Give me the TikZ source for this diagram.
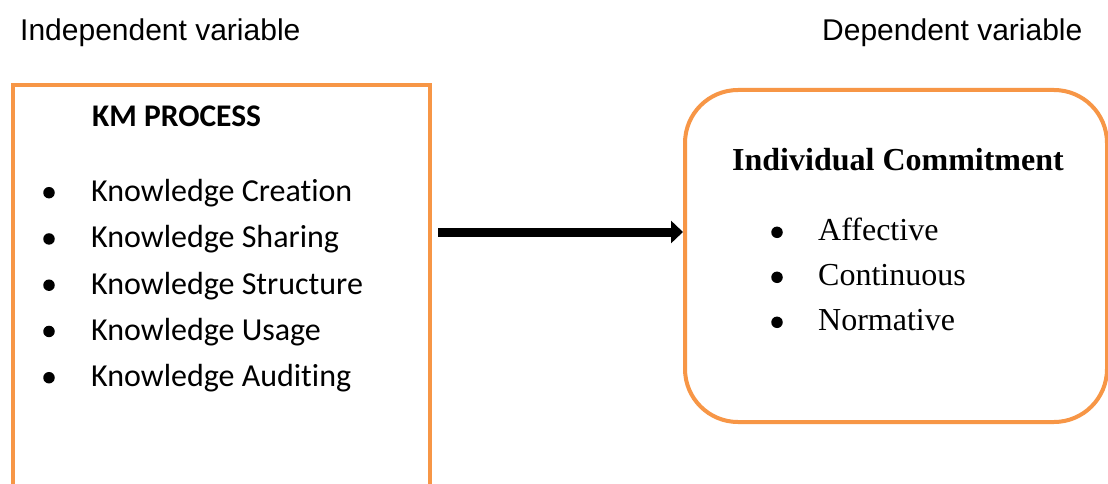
\documentclass[tikz,border=0pt]{standalone}
\usepackage{fontspec}
\setmainfont{Liberation Serif}
\newfontfamily\labelfont{Liberation Sans}
\newfontfamily\calfont[Ligatures=NoCommon]{Carlito}
\usetikzlibrary{arrows.meta}
\definecolor{boxorange}{HTML}{F79646}
\tikzset{
  framebox/.style={draw=boxorange, line width=4pt, inner sep=0pt},
  toplabel/.style={anchor=base west, inner sep=0pt, font=\labelfont\fontsize{30}{36}\selectfont},
  kmtext/.style={anchor=base west, inner sep=0pt, font=\calfont\fontsize{32}{38}\selectfont},
  ictext/.style={anchor=base west, inner sep=0pt, font=\fontsize{32}{38}\selectfont},
  dot/.style={circle, fill=black, inner sep=0pt, minimum size=11.5pt},
  bigarrow/.style={line width=9pt, -{Triangle[length=12pt,width=22pt]}}
}
\begin{document}
\begin{tikzpicture}[x=1pt,y=-1pt]
\clip (0,0) rectangle (1108,484);
\fill[white] (0,0) rectangle (1108,484);

% headings above the two boxes
\node[toplabel] (indep) at (20,41) {Independent variable};
\node[toplabel] (dep) at (822,41) {Dependent variable};

% independent variable box (runs past the lower edge)
\node[framebox, rectangle, minimum width=417pt, minimum height=420pt, anchor=north west] (km) at (11,83) {};
\node[kmtext, font=\calfont\bfseries\fontsize{31.5}{37}\selectfont] (kmtitle) at (92,127) {KM PROCESS};
\foreach \t [count=\i] in {Knowledge Creation, Knowledge Sharing, Knowledge Structure, Knowledge Usage, Knowledge Auditing} {
  \pgfmathsetmacro{\yy}{201.7 + (\i-1)*46.25}
  \node[dot] (kmdot\i) at (49,\yy-9) {};
  \node[kmtext] (kmitem\i) at (91,\yy) {\t};
}

% dependent variable box
\node[framebox, rectangle, rounded corners=53pt, minimum width=422pt, minimum height=332pt, anchor=north west] (ic) at (683,88) {};
\node[ictext, font=\bfseries\fontsize{32}{38}\selectfont] (ictitle) at (732,170) {Individual Commitment};
\foreach \t [count=\i] in {Affective, Continuous, Normative} {
  \pgfmathsetmacro{\yy}{240 + (\i-1)*45}
  \node[dot] (icdot\i) at (777,\yy-7.7) {};
  \node[ictext] (icitem\i) at (818,\yy) {\t};
}

% relationship arrow
\coordinate (arrowstart) at ([xshift=6pt]km.east |- 0,232);
\draw[bigarrow] (arrowstart) -- (ic.west |- 0,232);
\end{tikzpicture}
\end{document}
